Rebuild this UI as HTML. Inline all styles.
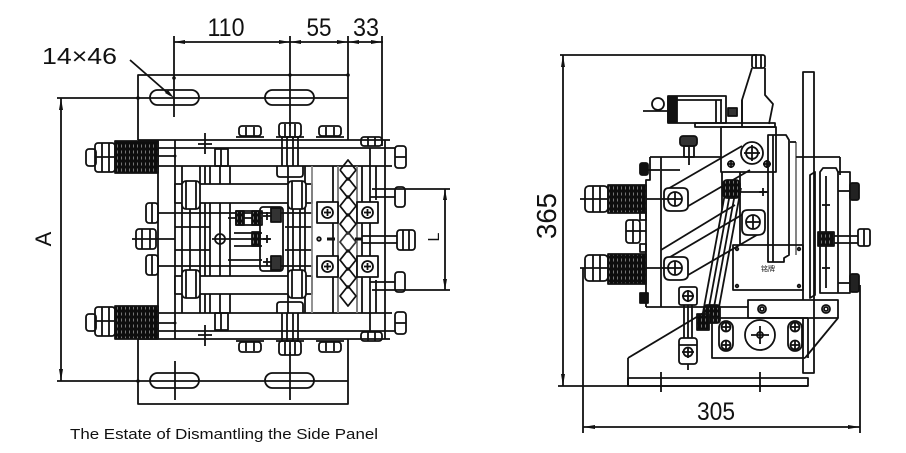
<!DOCTYPE html>
<html><head><meta charset="utf-8"><style>
html,body{margin:0;padding:0;background:#fff;}
svg{display:block;}
text{font-family:"Liberation Sans","Noto Sans CJK SC",sans-serif;fill:#111;stroke:none;}
</style></head><body>
<svg width="906" height="453" viewBox="0 0 906 453" xmlns="http://www.w3.org/2000/svg">
<defs>
<pattern id="coil" width="4" height="6" patternUnits="userSpaceOnUse">
<rect width="4" height="6" fill="#0d0d0d"/>
<line x1="1.5" y1="0.5" x2="1.5" y2="3.5" stroke="#ddd" stroke-width="0.5"/>
</pattern>
</defs>
<g fill="none" stroke="#111" stroke-width="1.8" stroke-linejoin="round">

<!-- ================= LEFT DRAWING ================= -->
<line x1="174" y1="42" x2="383" y2="42"/>
<line x1="174" y1="36" x2="174" y2="117"/>
<line x1="290" y1="36" x2="290" y2="126"/>
<line x1="348" y1="36" x2="348" y2="75"/>
<line x1="382" y1="36" x2="382" y2="146"/>
<g fill="#111" stroke="none">
<polygon points="174,42 185,40 185,44"/>
<polygon points="290,42 279,40 279,44"/>
<polygon points="290,42 301,40 301,44"/>
<polygon points="348,42 337,40 337,44"/>
<polygon points="348,42 359,40 359,44"/>
<polygon points="382,42 371,40 371,44"/>
<polygon points="61,98 59,110 63,110"/>
<polygon points="61,381 59,369 63,369"/>
<polygon points="174,98 165,93 168,90"/>
<polygon points="445,189 443,200 447,200"/>
<polygon points="445,290 443,279 447,279"/>
<circle cx="138" cy="98" r="1.8"/><circle cx="174" cy="78" r="1.8"/><circle cx="290" cy="75" r="1.8"/><circle cx="348" cy="75" r="1.8"/>
<circle cx="138" cy="381" r="1.8"/><circle cx="175" cy="156" r="1.5"/><circle cx="175" cy="323" r="1.5"/>
</g>
<path d="M138,140 V75 H348 V140"/>
<path d="M138,339 V404 H348 V339"/>
<line x1="57" y1="98" x2="348" y2="98"/>
<line x1="57" y1="381" x2="348" y2="381"/>
<rect x="150" y="90" width="49" height="15" rx="7.5"/>
<rect x="265" y="90" width="49" height="15" rx="7.5"/>
<rect x="150" y="373" width="49" height="15" rx="7.5"/>
<rect x="265" y="373" width="49" height="15" rx="7.5"/>
<line x1="175" y1="361" x2="175" y2="400"/>
<line x1="290" y1="352" x2="290" y2="400"/>
<line x1="61" y1="98" x2="61" y2="381"/>
<line x1="130" y1="60" x2="170" y2="95"/>

<line x1="138" y1="140" x2="390" y2="140"/>
<line x1="158" y1="148" x2="396" y2="148"/>
<line x1="158" y1="166" x2="392" y2="166"/>
<line x1="158" y1="313" x2="392" y2="313"/>
<line x1="158" y1="331" x2="396" y2="331"/>
<line x1="138" y1="339" x2="390" y2="339"/>
<line x1="158" y1="140" x2="158" y2="339"/>
<line x1="175" y1="140" x2="175" y2="339"/>
<line x1="385" y1="140" x2="385" y2="339"/>
<line x1="370" y1="148" x2="370" y2="331"/>
<line x1="376" y1="166" x2="376" y2="200"/>
<line x1="376" y1="280" x2="376" y2="313"/>
<line x1="205" y1="133" x2="205" y2="154"/><line x1="198" y1="144" x2="212" y2="144"/>
<line x1="205" y1="325" x2="205" y2="346"/><line x1="198" y1="335" x2="212" y2="335"/>
<rect x="215" y="149" width="13" height="17"/>
<rect x="215" y="313" width="13" height="17"/>
<line x1="221" y1="149" x2="221" y2="166"/><line x1="221" y1="313" x2="221" y2="330"/>
<rect x="239" y="126" width="22" height="10" rx="3"/><line x1="236" y1="137" x2="264" y2="137"/>
<line x1="246" y1="127" x2="246" y2="136"/><line x1="254" y1="127" x2="254" y2="136"/>
<rect x="279" y="123" width="22" height="14" rx="3"/><line x1="276" y1="137" x2="304" y2="137"/>
<line x1="285" y1="124" x2="285" y2="137"/><line x1="290" y1="124" x2="290" y2="137"/><line x1="295" y1="124" x2="295" y2="137"/>
<rect x="319" y="126" width="22" height="10" rx="3"/><line x1="316" y1="137" x2="344" y2="137"/>
<line x1="326" y1="127" x2="326" y2="136"/><line x1="334" y1="127" x2="334" y2="136"/>
<rect x="361" y="137" width="21" height="9" rx="3"/><line x1="368" y1="137" x2="368" y2="146"/><line x1="375" y1="137" x2="375" y2="146"/>
<rect x="239" y="342" width="22" height="10" rx="3"/><line x1="236" y1="341" x2="264" y2="341"/>
<line x1="246" y1="342" x2="246" y2="351"/><line x1="254" y1="342" x2="254" y2="351"/>
<rect x="279" y="341" width="22" height="14" rx="3"/><line x1="276" y1="341" x2="304" y2="341"/>
<line x1="285" y1="342" x2="285" y2="355"/><line x1="290" y1="342" x2="290" y2="355"/><line x1="295" y1="342" x2="295" y2="355"/>
<rect x="319" y="342" width="22" height="10" rx="3"/><line x1="316" y1="341" x2="344" y2="341"/>
<line x1="326" y1="342" x2="326" y2="351"/><line x1="334" y1="342" x2="334" y2="351"/>
<rect x="361" y="332" width="21" height="9" rx="3"/><line x1="368" y1="332" x2="368" y2="341"/><line x1="375" y1="332" x2="375" y2="341"/>
<line x1="282" y1="137" x2="282" y2="166"/><line x1="287" y1="137" x2="287" y2="166"/><line x1="293" y1="137" x2="293" y2="166"/><line x1="298" y1="137" x2="298" y2="166"/>
<line x1="282" y1="313" x2="282" y2="341"/><line x1="287" y1="313" x2="287" y2="341"/><line x1="293" y1="313" x2="293" y2="341"/><line x1="298" y1="313" x2="298" y2="341"/>
<path d="M277,166 V174 Q277,177 280,177 H300 Q303,177 303,174 V166"/>
<path d="M277,313 V305 Q277,302 280,302 H300 Q303,302 303,305 V313"/>
<rect x="86" y="149" width="10" height="17" rx="3"/>
<rect x="95" y="143" width="20" height="29" rx="3"/>
<line x1="102" y1="143" x2="102" y2="172"/><line x1="109" y1="143" x2="109" y2="172"/><line x1="95" y1="157" x2="115" y2="157"/>
<rect x="115" y="141" width="43" height="32" fill="url(#coil)"/>
<line x1="158" y1="156" x2="175" y2="156"/>
<rect x="86" y="314" width="10" height="17" rx="3"/>
<rect x="95" y="307" width="20" height="29" rx="3"/>
<line x1="102" y1="307" x2="102" y2="336"/><line x1="109" y1="307" x2="109" y2="336"/><line x1="95" y1="321" x2="115" y2="321"/>
<rect x="115" y="306" width="43" height="33" fill="url(#coil)"/>
<line x1="158" y1="323" x2="175" y2="323"/>
<rect x="146" y="203" width="12" height="20" rx="3"/><line x1="152" y1="203" x2="152" y2="223"/>
<rect x="136" y="229" width="20" height="20" rx="3"/><line x1="142" y1="229" x2="142" y2="249"/><line x1="150" y1="229" x2="150" y2="249"/>
<line x1="132" y1="239" x2="175" y2="239"/>
<rect x="146" y="255" width="12" height="20" rx="3"/><line x1="152" y1="255" x2="152" y2="275"/>
<line x1="158" y1="213" x2="312" y2="213"/>
<line x1="158" y1="266" x2="312" y2="266"/>
<line x1="182" y1="166" x2="182" y2="313"/><line x1="190" y1="203" x2="190" y2="276"/><line x1="200" y1="166" x2="200" y2="313"/><line x1="205" y1="166" x2="205" y2="313"/>
<line x1="210" y1="166" x2="210" y2="313"/><line x1="220" y1="166" x2="220" y2="313"/><line x1="230" y1="166" x2="230" y2="313"/>
<line x1="288" y1="166" x2="288" y2="313"/><line x1="293" y1="203" x2="293" y2="276"/><line x1="300" y1="203" x2="300" y2="276"/><line x1="305" y1="166" x2="305" y2="313"/>
<line x1="175" y1="227" x2="210" y2="227"/><line x1="175" y1="250" x2="210" y2="250"/>
<line x1="285" y1="227" x2="312" y2="227"/><line x1="285" y1="250" x2="312" y2="250"/>
<rect x="175" y="184" width="137" height="19" fill="#fff"/>
<rect x="182" y="181" width="18" height="28" rx="4" fill="#fff"/><line x1="186" y1="181" x2="186" y2="209"/><line x1="196" y1="181" x2="196" y2="209"/>
<rect x="288" y="181" width="18" height="28" rx="4" fill="#fff"/><line x1="292" y1="181" x2="292" y2="209"/><line x1="302" y1="181" x2="302" y2="209"/>
<rect x="175" y="276" width="137" height="18" fill="#fff"/>
<rect x="182" y="270" width="18" height="28" rx="4" fill="#fff"/><line x1="186" y1="270" x2="186" y2="298"/><line x1="196" y1="270" x2="196" y2="298"/>
<rect x="288" y="270" width="18" height="28" rx="4" fill="#fff"/><line x1="292" y1="270" x2="292" y2="298"/><line x1="302" y1="270" x2="302" y2="298"/>
<circle cx="220" cy="239" r="5"/>
<line x1="212" y1="239" x2="270" y2="239"/>
<line x1="228" y1="218" x2="262" y2="218"/><line x1="228" y1="260" x2="262" y2="260"/>
<line x1="234" y1="233" x2="262" y2="233"/><line x1="234" y1="246" x2="262" y2="246"/>
<rect x="236" y="211" width="8" height="14" fill="url(#coil)"/>
<rect x="252" y="211" width="8" height="14" fill="url(#coil)"/>
<rect x="252" y="232" width="8" height="14" fill="url(#coil)"/>
<rect x="236" y="211" width="26" height="14"/>
<rect x="260" y="207" width="23" height="64" rx="3"/>
<rect x="271" y="208" width="10" height="14" fill="#333"/><rect x="271" y="256" width="10" height="14" fill="#333"/>
<line x1="263" y1="216" x2="271" y2="216"/><line x1="267" y1="212" x2="267" y2="220"/>
<line x1="263" y1="239" x2="271" y2="239"/><line x1="267" y1="235" x2="267" y2="243"/>
<line x1="263" y1="262" x2="271" y2="262"/><line x1="267" y1="258" x2="267" y2="266"/>
<line x1="312" y1="166" x2="312" y2="313" stroke="#888"/>
<line x1="333" y1="166" x2="333" y2="313"/>
<line x1="338" y1="166" x2="338" y2="313" stroke="#777"/>
<line x1="357" y1="166" x2="357" y2="313" stroke="#777"/>
<line x1="362" y1="166" x2="362" y2="313"/>
<path d="M340,170 L348,180 L356,170 M340,170 L348,160 L356,170"/>
<path d="M340,188 L348,178 L356,188 L348,198 Z"/>
<path d="M340,206 L348,196 L356,206 L348,216 Z"/>
<path d="M340,224 L348,214 L356,224 L348,234 Z"/>
<path d="M340,242 L348,232 L356,242 L348,252 Z" stroke="#333"/>
<path d="M340,260 L348,250 L356,260 L348,270 Z"/>
<path d="M340,278 L348,268 L356,278 L348,288 Z"/>
<path d="M340,296 L348,286 L356,296 L348,306 Z"/>
<rect x="317" y="202" width="21" height="21" fill="#fff"/><circle cx="327.5" cy="212.5" r="5.5"/><line x1="324" y1="212.5" x2="331" y2="212.5"/><line x1="327.5" y1="209" x2="327.5" y2="216"/>
<rect x="357" y="202" width="21" height="21" fill="#fff"/><circle cx="367.5" cy="212.5" r="5.5"/><line x1="364" y1="212.5" x2="371" y2="212.5"/><line x1="367.5" y1="209" x2="367.5" y2="216"/>
<rect x="317" y="256" width="21" height="21" fill="#fff"/><circle cx="327.5" cy="266.5" r="5.5"/><line x1="324" y1="266.5" x2="331" y2="266.5"/><line x1="327.5" y1="263" x2="327.5" y2="270"/>
<rect x="357" y="256" width="21" height="21" fill="#fff"/><circle cx="367.5" cy="266.5" r="5.5"/><line x1="364" y1="266.5" x2="371" y2="266.5"/><line x1="367.5" y1="263" x2="367.5" y2="270"/>
<circle cx="319" cy="239" r="1.8"/>
<line x1="327" y1="239" x2="335" y2="239" stroke-width="3"/><line x1="355" y1="239" x2="362" y2="239" stroke-width="3"/>
<rect x="395" y="146" width="11" height="22" rx="3"/><line x1="395" y1="157" x2="406" y2="157"/>
<rect x="395" y="187" width="10" height="20" rx="3"/><line x1="370" y1="197" x2="395" y2="197"/>
<rect x="397" y="230" width="18" height="20" rx="3"/><line x1="403" y1="230" x2="403" y2="250"/><line x1="409" y1="230" x2="409" y2="250"/>
<line x1="362" y1="236" x2="397" y2="236"/><line x1="362" y1="243" x2="397" y2="243"/>
<rect x="395" y="272" width="10" height="20" rx="3"/><line x1="370" y1="282" x2="395" y2="282"/>
<rect x="395" y="312" width="11" height="22" rx="3"/><line x1="395" y1="323" x2="406" y2="323"/>
<line x1="372" y1="189" x2="450" y2="189"/>
<line x1="372" y1="290" x2="450" y2="290"/>
<line x1="445" y1="189" x2="445" y2="290"/>

<!-- ================= RIGHT DRAWING ================= -->
<line x1="560" y1="55" x2="757" y2="55"/>
<line x1="563" y1="55" x2="563" y2="386"/>
<line x1="558" y1="386" x2="808" y2="386"/>
<line x1="583" y1="268" x2="583" y2="433"/>
<line x1="860" y1="285" x2="860" y2="433"/>
<line x1="583" y1="427" x2="860" y2="427"/>
<g fill="#111" stroke="none">
<polygon points="563,55 561,67 565,67"/>
<polygon points="563,386 561,374 565,374"/>
<polygon points="583,427 595,425 595,429"/>
<polygon points="860,427 848,425 848,429"/>
</g>
<rect x="752" y="55" width="13" height="13" rx="2"/>
<line x1="756" y1="55" x2="756" y2="68"/><line x1="761" y1="55" x2="761" y2="68"/>
<path d="M752,68 L742,100 L742,124"/>
<path d="M765,68 L765,95 L773,104 L769,124"/>
<circle cx="658" cy="104" r="6"/>
<line x1="643" y1="111" x2="668" y2="111"/>
<rect x="668" y="96" width="58" height="27"/>
<rect x="668" y="97" width="9" height="25" fill="#111"/>
<line x1="677" y1="100" x2="722" y2="100"/>
<line x1="716" y1="100" x2="716" y2="123"/><line x1="721" y1="100" x2="721" y2="123"/>
<rect x="728" y="108" width="9" height="8" fill="#333"/>
<rect x="695" y="123" width="80" height="4"/>
<rect x="721" y="127" width="55" height="45"/>
<circle cx="752" cy="153" r="11"/><circle cx="752" cy="153" r="6"/>
<line x1="744" y1="153" x2="760" y2="153"/><line x1="752" y1="145" x2="752" y2="161"/>
<circle cx="731" cy="164" r="3"/><line x1="727" y1="164" x2="735" y2="164"/><line x1="731" y1="160" x2="731" y2="168"/>
<circle cx="767" cy="164" r="3"/><line x1="763" y1="164" x2="771" y2="164"/><line x1="767" y1="160" x2="767" y2="168"/>
<line x1="742" y1="100" x2="742" y2="127"/>
<path d="M768,135 L786,135 L789,140 L789,255 L784,258 L784,262 L768,262 Z"/>
<line x1="773" y1="135" x2="773" y2="262"/>
<line x1="796" y1="142" x2="796" y2="255" stroke="#777"/>
<line x1="790" y1="142" x2="796" y2="142"/>
<rect x="803" y="72" width="11" height="301"/>
<line x1="796" y1="157" x2="840" y2="157"/>
<line x1="840" y1="157" x2="840" y2="175"/>
<path d="M650,157 H721 M650,157 V180 H646 V307"/>
<line x1="661" y1="157" x2="661" y2="307"/>
<line x1="661" y1="170" x2="680" y2="170"/>
<rect x="680" y="136" width="17" height="10" rx="3" fill="#333"/>
<rect x="684" y="146" width="10" height="11"/>
<line x1="689" y1="146" x2="689" y2="165"/>
<rect x="640" y="163" width="8" height="12" rx="2" fill="#111"/>
<line x1="646" y1="170" x2="660" y2="170"/>
<line x1="740" y1="172" x2="740" y2="245"/>
<line x1="722" y1="192" x2="768" y2="192"/>
<line x1="759" y1="192" x2="767" y2="192"/><line x1="763" y1="188" x2="763" y2="196"/>
<line x1="722" y1="172" x2="722" y2="210"/>
<line x1="666" y1="190" x2="742" y2="146"/>
<line x1="685" y1="208" x2="750" y2="170"/>
<path d="M664,193 Q664,188 669,188 L683,188 Q688,188 688,193 L688,206 Q688,211 680,211 L670,211 Q664,211 664,205 Z" fill="#fff"/>
<circle cx="675" cy="199" r="7"/><line x1="668" y1="199" x2="682" y2="199"/><line x1="675" y1="192" x2="675" y2="206"/>
<line x1="665" y1="260" x2="745" y2="213"/>
<line x1="683" y1="278" x2="762" y2="232"/>
<line x1="661" y1="250" x2="735" y2="205"/>
<path d="M742,215 Q742,210 748,210 L760,210 Q765,210 765,215 L765,228 Q765,235 758,235 L748,235 Q742,235 742,229 Z" fill="#fff"/>
<circle cx="753" cy="222" r="7"/><line x1="746" y1="222" x2="760" y2="222"/><line x1="753" y1="215" x2="753" y2="229"/>
<path d="M664,262 Q664,257 669,257 L683,257 Q688,257 688,262 L688,275 Q688,280 680,280 L670,280 Q664,280 664,274 Z" fill="#fff"/>
<circle cx="675" cy="268" r="7"/><line x1="668" y1="268" x2="682" y2="268"/><line x1="675" y1="261" x2="675" y2="275"/>
<line x1="726" y1="188" x2="702" y2="318"/>
<line x1="731" y1="188" x2="707" y2="318"/>
<line x1="736" y1="188" x2="712" y2="318"/>
<line x1="741" y1="188" x2="717" y2="318"/>
<rect x="723" y="180" width="17" height="18" rx="4" fill="url(#coil)"/>
<rect x="704" y="305" width="16" height="18" rx="3" fill="url(#coil)"/>
<line x1="580" y1="199" x2="668" y2="199"/>
<rect x="585" y="186" width="23" height="26" rx="4" fill="#fff"/>
<line x1="593" y1="186" x2="593" y2="212"/><line x1="600" y1="186" x2="600" y2="212"/><line x1="585" y1="199" x2="608" y2="199"/>
<rect x="608" y="185" width="38" height="28" fill="url(#coil)"/>
<line x1="580" y1="268" x2="668" y2="268"/>
<rect x="585" y="255" width="23" height="26" rx="4" fill="#fff"/>
<line x1="593" y1="255" x2="593" y2="281"/><line x1="600" y1="255" x2="600" y2="281"/><line x1="585" y1="268" x2="608" y2="268"/>
<rect x="608" y="254" width="38" height="30" fill="url(#coil)"/>
<rect x="626" y="220" width="14" height="23" rx="3"/><line x1="626" y1="231" x2="640" y2="231"/><line x1="633" y1="220" x2="633" y2="243"/>
<line x1="640" y1="231" x2="646" y2="231"/>
<rect x="640" y="212" width="6" height="8"/><rect x="640" y="244" width="6" height="8"/>
<rect x="640" y="293" width="8" height="10" fill="#111"/>
<rect x="733" y="245" width="70" height="45"/>
<circle cx="737" cy="249" r="1.3"/><circle cx="799" cy="249" r="1.3"/><circle cx="737" cy="286" r="1.3"/><circle cx="799" cy="286" r="1.3"/>
<path d="M810,175 L815,172 L815,295 L810,298 Z"/>
<path d="M820,172 L823,168 L836,168 L838,172 L850,172 L850,293 L820,293 Z"/>
<line x1="826" y1="176" x2="826" y2="288"/>
<line x1="838" y1="172" x2="838" y2="293"/>
<line x1="822" y1="205" x2="830" y2="205"/><line x1="822" y1="268" x2="830" y2="268"/>
<rect x="850" y="183" width="9" height="17" rx="2" fill="#222"/>
<line x1="838" y1="191" x2="850" y2="191"/>
<rect x="818" y="232" width="16" height="14" fill="url(#coil)"/>
<line x1="834" y1="236" x2="858" y2="236"/><line x1="834" y1="243" x2="858" y2="243"/>
<rect x="858" y="229" width="12" height="17" rx="2"/><line x1="864" y1="229" x2="864" y2="246"/>
<rect x="850" y="274" width="9" height="18" rx="2" fill="#222"/>
<line x1="838" y1="283" x2="850" y2="283"/>
<line x1="646" y1="307" x2="808" y2="307"/>
<line x1="808" y1="307" x2="808" y2="358"/>
<rect x="748" y="300" width="90" height="18" fill="#fff"/>
<line x1="814" y1="300" x2="814" y2="318"/>
<circle cx="762" cy="309" r="4"/><circle cx="762" cy="309" r="2"/>
<circle cx="826" cy="309" r="4"/><circle cx="826" cy="309" r="2"/>
<path d="M712,318 H808 M712,318 V358 H805"/>
<line x1="838" y1="318" x2="805" y2="358"/>
<rect x="719" y="321" width="14" height="30" rx="7"/>
<circle cx="726" cy="327" r="4.5"/><line x1="721" y1="327" x2="731" y2="327"/><line x1="726" y1="322" x2="726" y2="332"/>
<circle cx="726" cy="345" r="4.5"/><line x1="721" y1="345" x2="731" y2="345"/><line x1="726" y1="340" x2="726" y2="350"/>
<rect x="788" y="321" width="14" height="30" rx="7"/>
<circle cx="795" cy="327" r="4.5"/><line x1="790" y1="327" x2="800" y2="327"/><line x1="795" y1="322" x2="795" y2="332"/>
<circle cx="795" cy="345" r="4.5"/><line x1="790" y1="345" x2="800" y2="345"/><line x1="795" y1="340" x2="795" y2="350"/>
<circle cx="760" cy="335" r="15"/>
<line x1="751" y1="335" x2="769" y2="335"/><line x1="760" y1="326" x2="760" y2="344"/>
<circle cx="760" cy="335" r="3"/>
<rect x="697" y="314" width="12" height="16" fill="url(#coil)"/>
<line x1="628" y1="358" x2="705" y2="312"/>
<line x1="628" y1="358" x2="628" y2="386"/>
<rect x="628" y="378" width="180" height="8"/>
<line x1="661" y1="372" x2="661" y2="392"/>
<line x1="760" y1="372" x2="760" y2="392"/>
<rect x="679" y="287" width="18" height="18" rx="2"/>
<circle cx="688" cy="296" r="5"/><line x1="682" y1="296" x2="694" y2="296"/><line x1="688" y1="290" x2="688" y2="302"/>
<line x1="684" y1="305" x2="684" y2="338"/><line x1="692" y1="305" x2="692" y2="338"/><line x1="688" y1="305" x2="688" y2="338"/>
<rect x="679" y="338" width="18" height="26" rx="3"/>
<line x1="679" y1="345" x2="697" y2="345"/>
<circle cx="688" cy="352" r="4.5"/><line x1="682" y1="352" x2="694" y2="352"/><line x1="688" y1="347" x2="688" y2="358"/>
<line x1="688" y1="364" x2="688" y2="370"/>
</g>

<text x="226" y="36" font-size="25" text-anchor="middle" textLength="37" lengthAdjust="spacingAndGlyphs">110</text>
<text x="319" y="36" font-size="25" text-anchor="middle" textLength="25" lengthAdjust="spacingAndGlyphs">55</text>
<text x="366" y="36" font-size="25" text-anchor="middle" textLength="26" lengthAdjust="spacingAndGlyphs">33</text>
<text x="42" y="64" font-size="23" textLength="75" lengthAdjust="spacingAndGlyphs">14×46</text>
<text transform="translate(51,239) rotate(-90)" font-size="22" text-anchor="middle">A</text>
<text transform="translate(439,237) rotate(-90)" font-size="16" text-anchor="middle">L</text>
<text transform="translate(556,216) rotate(-90)" font-size="28" text-anchor="middle" textLength="46" lengthAdjust="spacingAndGlyphs">365</text>
<text x="716" y="420" font-size="25" text-anchor="middle" textLength="38" lengthAdjust="spacingAndGlyphs">305</text>
<text x="768" y="271" font-size="7" text-anchor="middle">铭牌</text>
<text x="70" y="439" font-size="15" textLength="308" lengthAdjust="spacingAndGlyphs">The Estate of Dismantling the Side Panel</text>
</svg>
</body></html>
